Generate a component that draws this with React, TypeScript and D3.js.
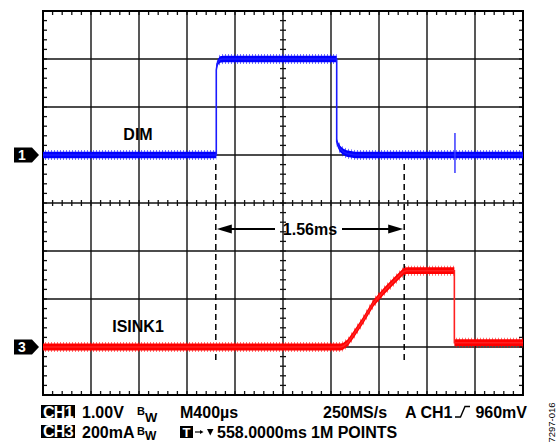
import React from "react";
import * as d3 from "d3";

// ---- data (oscilloscope capture) ----
// time in ms (M400µs/div, 10 divisions)
const blueT = [0, 1.444, 1.444, 1.452, 1.462, 1.475, 1.5, 2.4475, 2.4475, 2.46, 2.475, 2.5, 2.53, 2.6, 4];
// DIM, volts (1.00V/div)
const blueV = [0, 0, 1.77, 1.9, 1.95, 1.99, 2.0, 2.0, 0.28, 0.2, 0.13, 0.07, 0.03, 0, 0];
const spikeT = 3.433;
const spikeRange = [-0.375, 0.46];
// ISINK1, mA (200mA/div)
const redT = [0, 2.48, 2.5, 2.54, 2.586, 2.669, 2.753, 2.836, 2.919, 3.003, 3.03, 3.428, 3.428, 4];
const redI = [0, 0, 3, 18, 50, 112, 182, 230, 272, 314, 318, 318, 18, 18];
const cursorTimes = [1.44, 3.01];
const cursorLabel = "1.56ms";
const row1 = ["1.00V", "M400µs", "250MS/s", "A CH1", "960mV"];
const row2 = ["200mA", "558.0000ms", "1M POINTS"];

const W = 560, H = 442;
const X0 = 43, X1 = 523, Y0 = 11, Y1 = 395;
const FONT = "'Liberation Sans', Arial, Helvetica, sans-serif";

export default function App() {
  const gx = d3.scaleLinear().domain([0, 10]).range([X0, X1]);
  const gy = d3.scaleLinear().domain([0, 8]).range([Y0, Y1]);
  const xT = d3.scaleLinear().domain([0, 4]).range([X0, X1]);
  const yV = d3.scaleLinear().domain([-5, 3]).range([Y1, Y0]);
  const yI = d3.scaleLinear().domain([-200, 1400]).range([Y1, Y0]);

  const bluePts = blueT.map((t, i) => [t, blueV[i]] as [number, number]);
  const redPts = redT.map((t, i) => [t, redI[i]] as [number, number]);

  const band = (ys: d3.ScaleLinear<number, number>, hw: number) =>
    d3.area<[number, number]>()
      .x((d) => xT(d[0]))
      .y0((d) => ys(d[1]) - hw)
      .y1((d) => ys(d[1]) + hw);
  const line = (ys: d3.ScaleLinear<number, number>) =>
    d3.line<[number, number]>().x((d) => xT(d[0])).y((d) => ys(d[1]));

  const minor = d3.range(0, 51).map((i) => i * 0.2); // in divisions
  const minorY = d3.range(0, 41).map((i) => i * 0.2);

  const ticks: any[] = [];
  minor.forEach((d, i) => {
    const x = gx(d);
    ticks.push(<line key={"tt" + i} x1={x} x2={x} y1={Y0} y2={Y0 + 4} />);
    ticks.push(<line key={"tb" + i} x1={x} x2={x} y1={Y1} y2={Y1 - 4} />);
    ticks.push(<line key={"tc" + i} x1={x} x2={x} y1={gy(4) - 3} y2={gy(4) + 3} />);
  });
  minorY.forEach((d, i) => {
    const y = gy(d);
    ticks.push(<line key={"tl" + i} x1={X0} x2={X0 + 4} y1={y} y2={y} />);
    ticks.push(<line key={"tr" + i} x1={X1} x2={X1 - 4} y1={y} y2={y} />);
    ticks.push(<line key={"tm" + i} x1={gx(5) - 3} x2={gx(5) + 3} y1={y} y2={y} />);
  });

  const marker = (label: string, y: number) => (
    <g>
      <path d={`M14,${y - 7.5} H32 L39,${y} L32,${y + 7.5} H14 Z`} fill="#000" />
      <text x={22} y={y + 5} fill="#fff" fontSize={14} fontWeight="bold" textAnchor="middle" fontFamily={FONT}>{label}</text>
    </g>
  );

  const cxL = xT(cursorTimes[0]);
  const cxR = xT(cursorTimes[1]);
  const ay = 229;

  const txt = { fontFamily: FONT, fontWeight: "bold" as const, fontSize: 16, fill: "#000" };
  const B1 = 418, B2 = 437.5;

  return (
    <svg width={W} height={H} style={{ position: "absolute", left: 0, top: 0, background: "#fff" }}>
      <defs>
        <pattern id="fzB" width={3} height={12} patternUnits="userSpaceOnUse">
          <rect x={0} y={0} width={1} height={12} fill="#0000ff" opacity={0.55} />
        </pattern>
        <pattern id="fzR" width={3} height={12} patternUnits="userSpaceOnUse">
          <rect x={0} y={0} width={1} height={12} fill="#ff0000" opacity={0.55} />
        </pattern>
      </defs>
      <rect x={0} y={0} width={W} height={H} fill="#fff" />
      {/* grid */}
      <g stroke="#111" strokeWidth={1.4}>
        {d3.range(1, 10).map((d) => (
          <line key={"v" + d} x1={gx(d)} x2={gx(d)} y1={Y0} y2={Y1} />
        ))}
        {d3.range(1, 8).map((d) => (
          <line key={"h" + d} x1={X0} x2={X1} y1={gy(d)} y2={gy(d)} />
        ))}
      </g>
      <g stroke="#111" strokeWidth={1.3}>{ticks}</g>
      <rect x={X0} y={Y0} width={X1 - X0} height={Y1 - Y0} fill="none" stroke="#000" strokeWidth={2} />

      {/* cursors */}
      <g stroke="#000" strokeWidth={1.5} strokeDasharray="6 4">
        <line x1={cxL} x2={cxL} y1={164} y2={362} />
        <line x1={cxR} x2={cxR} y1={164} y2={362} />
      </g>
      <g stroke="#000" strokeWidth={2}>
        <line x1={cxL + 12} x2={275} y1={ay} y2={ay} />
        <line x1={342} x2={cxR - 12} y1={ay} y2={ay} />
      </g>
      <path d={`M${cxL + 1},${ay} L${cxL + 16},${ay - 4.5} L${cxL + 16},${ay + 4.5} Z`} fill="#000" />
      <path d={`M${cxR - 1},${ay} L${cxR - 16},${ay - 4.5} L${cxR - 16},${ay + 4.5} Z`} fill="#000" />
      <text x={310} y={235} textAnchor="middle" {...txt}>{cursorLabel}</text>

      {/* traces */}
      <path d={band(yV, 5)(bluePts) || ""} fill="url(#fzB)" />
      <path d={band(yV, 3.2)(bluePts) || ""} fill="#0000ff" />
      <path d={line(yV)(bluePts) || ""} fill="none" stroke="#1a1aff" strokeWidth={1.6} />
      <line x1={xT(spikeT)} x2={xT(spikeT)} y1={yV(spikeRange[0])} y2={yV(spikeRange[1])} stroke="#3a3aff" strokeWidth={1.5} />

      <path d={band(yI, 5)(redPts) || ""} fill="url(#fzR)" />
      <path d={band(yI, 3.4)(redPts) || ""} fill="#ff0000" />
      <path d={line(yI)(redPts) || ""} fill="none" stroke="#ff2020" strokeWidth={1.6} />

      {/* labels */}
      <text x={138} y={140} textAnchor="middle" {...txt}>DIM</text>
      <text x={138} y={332} textAnchor="middle" {...txt}>ISINK1</text>
      {marker("1", yV(0))}
      {marker("3", yI(0))}

      {/* status rows */}
      <rect x={41} y={405} width={34} height={13} fill="#000" />
      <text x={58} y={B1 - 0.5} textAnchor="middle" {...txt} fill="#fff" letterSpacing={-0.6}>CH1</text>
      <text x={82} y={B1} {...txt}>{row1[0]}</text>
      <text x={137} y={415} {...txt} fontSize={11}>B</text>
      <text x={145} y={421.5} {...txt} fontSize={13}>W</text>
      <text x={180} y={B1} {...txt}>{row1[1]}</text>
      <text x={323} y={B1} {...txt}>{row1[2]}</text>
      <text x={405} y={B1} {...txt}>{row1[3]}</text>
      <path d="M455,417 H460.5 L465,406.5 H470" fill="none" stroke="#000" strokeWidth={1.4} />
      <text x={527} y={B1} textAnchor="end" {...txt}>{row1[4]}</text>

      <rect x={41} y={425} width={34} height={13} fill="#000" />
      <text x={58} y={B2 - 0.5} textAnchor="middle" {...txt} fill="#fff" letterSpacing={-0.6}>CH3</text>
      <text x={82} y={B2} {...txt}>{row2[0]}</text>
      <text x={137} y={434.5} {...txt} fontSize={11}>B</text>
      <text x={145} y={440} {...txt} fontSize={12}>W</text>
      <rect x={180} y={426} width={13} height={12} fill="#000" />
      <text x={186.5} y={436.5} textAnchor="middle" {...txt} fill="#fff" fontSize={13}>T</text>
      <line x1={195} x2={201} y1={432} y2={432} stroke="#000" strokeWidth={1.2} />
      <path d="M203.5,432 L200,430 L200,434 Z" fill="#000" />
      <path d="M207,429 H213.5 L210.25,435.5 Z" fill="#000" />
      <text x={217} y={B2} {...txt}>{row2[1]}</text>
      <text x={311} y={B2} {...txt}>{row2[2]}</text>

      <text transform="translate(555,422.5) rotate(-90)" textAnchor="middle" fontFamily={FONT} fontSize={9.5} fill="#000">7297-016</text>
    </svg>
  );
}
